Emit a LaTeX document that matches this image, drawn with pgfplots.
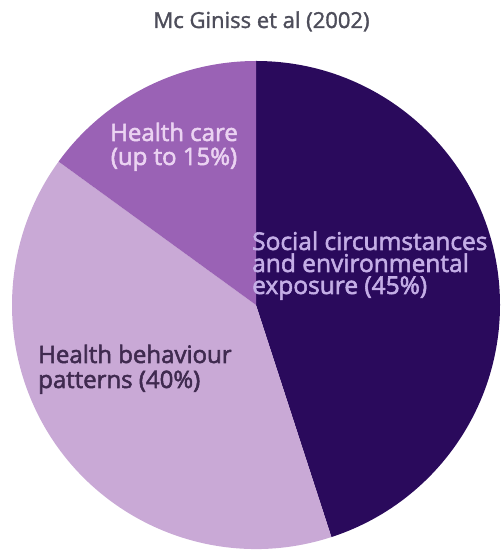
\documentclass[border=0pt]{standalone}
\usepackage{pgfplots}
\pgfplotsset{compat=1.18}
\usepackage{pgfplotstable}
\usepackage{fontspec}
\setmainfont{Open Sans}
\newfontfamily\labfont{Open Sans}[FakeBold=2.2]
\newfontfamily\titfont{Open Sans}[FakeBold=1.5]
\definecolor{socialc}{HTML}{2A0A5C}
\definecolor{behavc}{HTML}{C9A9D6}
\definecolor{carec}{HTML}{9A62B5}
\definecolor{socialtxt}{HTML}{C4AEE6}
\definecolor{caretxt}{HTML}{EBD3F2}
\definecolor{behavtxt}{HTML}{3F2A4F}
\definecolor{titletxt}{HTML}{4D4D5A}
\pgfplotstableread{
share value
social 45
behaviour 40
care 15
}\piedata
\pgfplotstablegetelem{0}{value}\of\piedata \let\vSocial\pgfplotsretval
\pgfplotstablegetelem{1}{value}\of\piedata \let\vBehav\pgfplotsretval
\pgfplotstablegetelem{2}{value}\of\piedata \let\vCare\pgfplotsretval
\begin{document}
\begin{tikzpicture}[x=1pt,y=1pt]
\useasboundingbox (0,0) rectangle (502,553);
\begin{scope}
\clip (0,0) rectangle (502,553);
\begin{axis}[at={(12pt,4pt)}, anchor=south west, width=488pt, height=488pt,
  scale only axis, hide axis, xmin=-1, xmax=1, ymin=-1, ymax=1, clip=false]
\fill[socialc] (axis cs:0,0) -- (axis cs:0,1) arc[start angle=90, delta angle={-3.6*\vSocial}, radius=1] -- cycle;
\fill[behavc] (axis cs:0,0) -- ({cos(90-3.6*\vSocial)},{sin(90-3.6*\vSocial)}) arc[start angle={90-3.6*\vSocial}, delta angle={-3.6*\vBehav}, radius=1] -- cycle;
\fill[carec] (axis cs:0,0) -- ({cos(90-3.6*(\vSocial+\vBehav))},{sin(90-3.6*(\vSocial+\vBehav))}) arc[start angle={90-3.6*(\vSocial+\vBehav)}, delta angle={-3.6*\vCare}, radius=1] -- cycle;
\end{axis}
\end{scope}
\node[anchor=base, font=\titfont\fontsize{22}{24}\selectfont, text=titletxt, inner sep=0] at (261.5,525) {Mc Giniss et al (2002)};
\begin{scope}[every node/.style={anchor=base west, inner sep=0, text=socialtxt, font=\labfont\fontsize{24.5}{26}\selectfont}]
\node at (252,303) {Social circumstances};
\node at (252,281) {and environmental};
\node at (252,259) {exposure (45\%)};
\end{scope}
\begin{scope}[every node/.style={anchor=base, inner sep=0, text=caretxt, font=\labfont\fontsize{24}{26}\selectfont}]
\node at (174,412) {Health care};
\node at (174,388) {(up to 15\%)};
\end{scope}
\begin{scope}[every node/.style={anchor=base west, inner sep=0, text=behavtxt, font=\labfont\fontsize{24}{26}\selectfont}]
\node at (38,190) {Health behaviour};
\node at (38,165) {patterns (40\%)};
\end{scope}
\end{tikzpicture}
\end{document}
